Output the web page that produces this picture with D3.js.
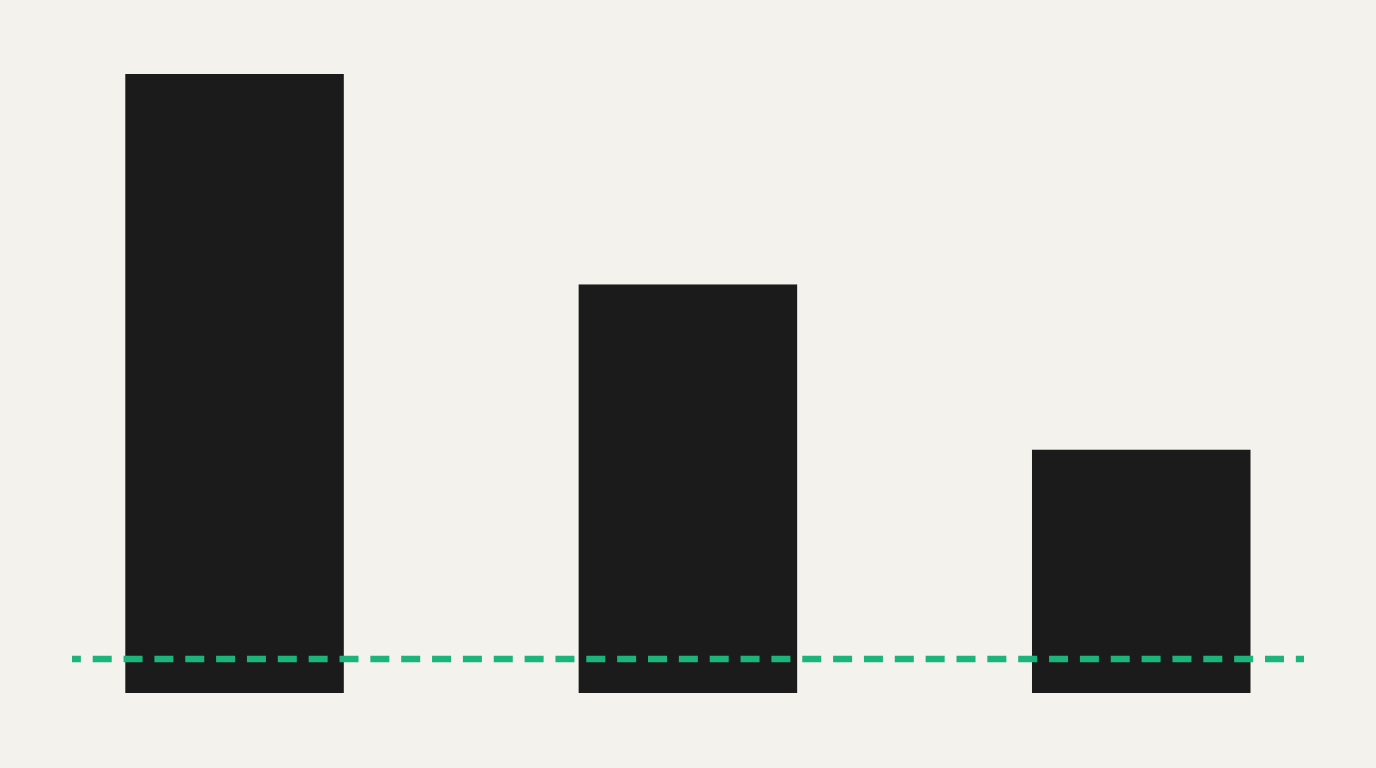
<!DOCTYPE html>
<html>
<head>
<meta charset="utf-8">
<script src="https://cdn.jsdelivr.net/npm/d3@7"></script>
<style>
  html, body { margin: 0; padding: 0; background: #f4f2ec; }
  svg { display: block; }
</style>
</head>
<body>
<svg id="chart" width="1376" height="768"></svg>
<script>
const categories = ["A", "B", "C"];
const values = [100, 66, 39.3];
const thresholdValue = 5.5;

const width = 1376, height = 768;
const svg = d3.select("#chart");

svg.append("rect").attr("width", width).attr("height", height).attr("fill", "#f4f2ec");

const x = d3.scaleBand()
  .domain(categories)
  .range([125.3, 1250.5])
  .paddingInner(0.518)
  .paddingOuter(0);

const y = d3.scaleLinear()
  .domain([0, 100])
  .range([693, 74]);

const data = categories.map((c, i) => ({ c, v: values[i] }));

svg.append("g").selectAll("rect")
  .data(data)
  .join("rect")
  .attr("x", d => x(d.c))
  .attr("y", d => y(d.v))
  .attr("width", x.bandwidth())
  .attr("height", d => y(0) - y(d.v))
  .attr("fill", "#1b1b1b");

svg.append("line")
  .attr("x1", 72)
  .attr("x2", 1304)
  .attr("y1", y(thresholdValue))
  .attr("y2", y(thresholdValue))
  .attr("stroke", "#1bb57b")
  .attr("stroke-width", 6.5)
  .attr("stroke-dasharray", "19 11.85")
  .attr("stroke-dashoffset", 10.15);
</script>
</body>
</html>
